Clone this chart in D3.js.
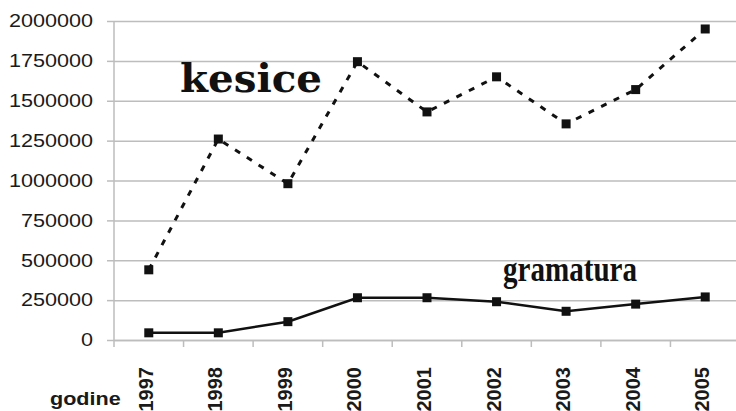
<!DOCTYPE html>
<html>
<head>
<meta charset="utf-8">
<script src="https://cdn.jsdelivr.net/npm/d3@7"></script>
<style>
  body { margin: 0; background: #fff; }
  svg { display: block; }
</style>
</head>
<body>
<svg id="chart" width="736" height="411"></svg>
<script>
var years = ["1997", "1998", "1999", "2000", "2001", "2002", "2003", "2004", "2005"];
var kesice = [440000, 1260000, 980000, 1745000, 1430000, 1650000, 1355000, 1570000, 1950000];
var gramatura = [45000, 45000, 115000, 265000, 265000, 240000, 180000, 225000, 270000];
var yTicks = [0, 250000, 500000, 750000, 1000000, 1250000, 1500000, 1750000, 2000000];

var svg = d3.select("#chart"),
    margin = {top: 21, right: -4, bottom: 71, left: 114},
    width = +svg.attr("width") - margin.left - margin.right,
    height = +svg.attr("height") - margin.top - margin.bottom;

var x = d3.scaleBand().domain(years).range([0, width]).padding(0);
var y = d3.scaleLinear().domain([0, 2000000]).range([height, 0]);

var g = svg.append("g")
    .attr("transform", "translate(" + margin.left + "," + margin.top + ")");

// grid lines
g.append("g")
    .attr("class", "grid")
    .call(d3.axisLeft(y).tickValues(yTicks).tickSize(-width).tickFormat(""))
    .call(function(s) {
        s.select(".domain").remove();
        s.selectAll("line").attr("stroke", "#bdbdbd").attr("stroke-width", 1.5);
    });

// y axis
g.append("g")
    .attr("class", "y axis")
    .call(d3.axisLeft(y).tickValues(yTicks).tickSize(7).tickFormat(d3.format("d")))
    .call(function(s) {
        s.select(".domain").attr("stroke", "#bdbdbd").attr("stroke-width", 1.5)
            .attr("d", "M0," + height + "V0");
        s.selectAll("line").attr("stroke", "#bdbdbd").attr("stroke-width", 1.5);
        s.selectAll("text")
            .attr("x", -21 / 1.2)
            .attr("transform", "scale(1.2,1)")
            .attr("fill", "#1a1a1a")
            .style("font-family", "'Liberation Sans', Arial, sans-serif")
            .style("font-size", "18px");
    });

// x axis labels
g.append("g")
    .attr("class", "x axis")
    .attr("transform", "translate(0," + height + ")")
    .call(d3.axisBottom(x).tickSize(0))
    .call(function(s) {
        s.select(".domain").attr("stroke", "#bdbdbd").attr("stroke-width", 1.5);
        s.selectAll("text")
            .attr("transform", "rotate(-90)")
            .attr("x", -27)
            .attr("y", -3)
            .attr("dy", "0.35em")
            .style("text-anchor", "end")
            .attr("fill", "#1a1a1a")
            .style("font-family", "'Liberation Sans', Arial, sans-serif")
            .style("font-weight", "bold")
            .style("font-size", "20px");
    });

// category boundary ticks
g.append("g").selectAll("line")
    .data(years.concat(["end"]))
    .enter().append("line")
    .attr("x1", function(d) { return d === "end" ? width : x(d); })
    .attr("x2", function(d) { return d === "end" ? width : x(d); })
    .attr("y1", height)
    .attr("y2", height + 7)
    .attr("stroke", "#bdbdbd")
    .attr("stroke-width", 1.5);

var cx = function(d, i) { return x(years[i]) + x.bandwidth() / 2; };

var line = d3.line()
    .x(cx)
    .y(function(d) { return y(d); });

g.append("path")
    .datum(kesice)
    .attr("fill", "none")
    .attr("stroke", "#111")
    .attr("stroke-width", 3)
    .attr("stroke-dasharray", "6,8")
    .attr("d", line);

g.append("path")
    .datum(gramatura)
    .attr("fill", "none")
    .attr("stroke", "#111")
    .attr("stroke-width", 2.5)
    .attr("d", line);

[kesice, gramatura].forEach(function(series) {
    g.append("g").selectAll("rect")
        .data(series)
        .enter().append("rect")
        .attr("x", function(d, i) { return cx(d, i) - 4.5; })
        .attr("y", function(d) { return y(d) - 4.5; })
        .attr("width", 9)
        .attr("height", 9)
        .attr("fill", "#111");
});

// series labels
svg.append("text")
    .attr("x", 180)
    .attr("y", 92)
    .attr("textLength", 142)
    .attr("lengthAdjust", "spacingAndGlyphs")
    .style("font-family", "'DejaVu Serif', serif")
    .style("font-weight", "bold")
    .style("font-size", "39px")
    .attr("fill", "#111")
    .text("kesice");

svg.append("text")
    .attr("x", 503)
    .attr("y", 281)
    .attr("textLength", 134)
    .attr("lengthAdjust", "spacingAndGlyphs")
    .style("font-family", "'Liberation Serif', serif")
    .style("font-weight", "bold")
    .style("font-size", "36px")
    .attr("fill", "#111")
    .text("gramatura");

svg.append("text")
    .attr("x", 50 / 1.2)
    .attr("y", 405)
    .attr("transform", "scale(1.2,1)")
    .style("font-family", "'Liberation Sans', Arial, sans-serif")
    .style("font-weight", "bold")
    .style("font-size", "18px")
    .attr("fill", "#1a1a1a")
    .text("godine");
</script>
</body>
</html>
